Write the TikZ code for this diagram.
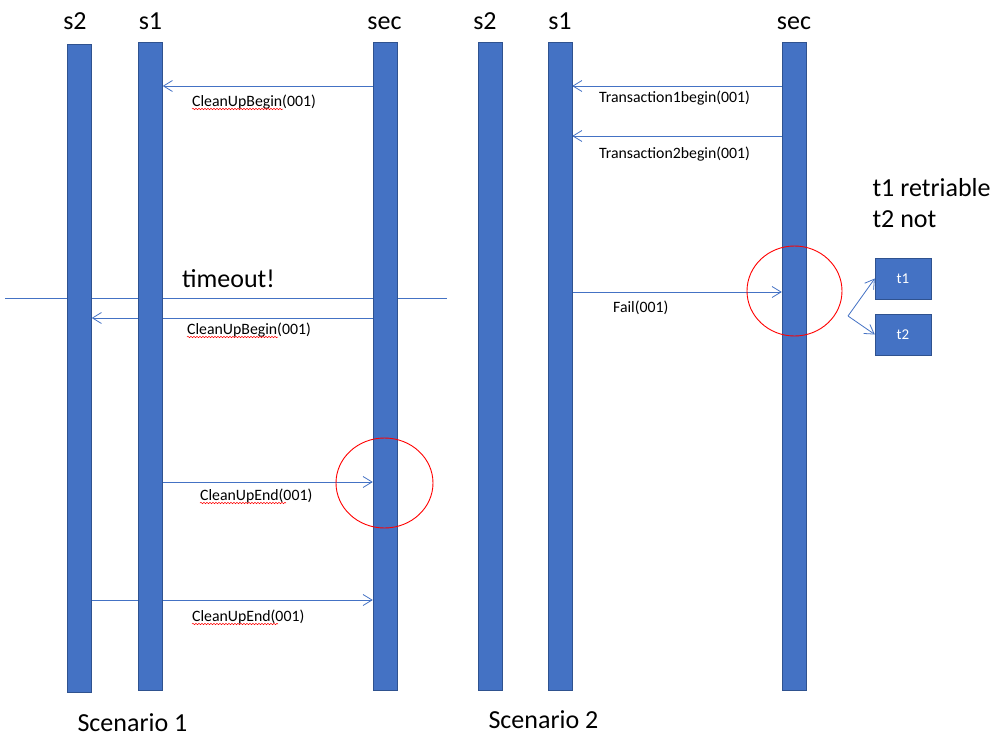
\documentclass[tikz,border=0pt]{standalone}
\usepackage{fontspec}
\setmainfont{Carlito}
\usetikzlibrary{arrows.meta,decorations.pathmorphing,backgrounds}
\definecolor{barblue}{HTML}{4472C4}
\definecolor{bardark}{HTML}{2F528F}
\tikzset{
  lane/.style={draw=bardark,fill=barblue,minimum width=24pt,minimum height=648pt,inner sep=0pt},
  head/.style={anchor=base,font=\fontsize{26}{30}\selectfont},
  msg/.style={draw=barblue,line width=0.8pt,-{Straight Barb[length=9pt,width=11pt]}},
  lbl/.style={anchor=base west,inner sep=0pt,font=\fontsize{15.8}{18}\selectfont},
  squiggle/.style={draw=red,line width=0.5pt,decorate,decoration={snake,amplitude=0.7pt,segment length=3pt}},
  ring/.style={draw=red,line width=0.9pt},
  tbox/.style={draw=bardark,fill=barblue,text=white,minimum width=56pt,minimum height=41pt,font=\fontsize{15}{17}\selectfont}
}
\begin{document}
\begin{tikzpicture}[x=1pt,y=-1pt]
    \useasboundingbox (0,0) rectangle (1005,744);
    % scenario 1 lanes
    \node [lane] (s2a) at (79.5,368) {};
    \node [lane] (s1a) at (150.5,366) {};
    \node [lane] (seca) at (385,366) {};
    \node [head] at (75,30) {s2};
    \node [head] at (150.5,30) {s1};
    \node [head] at (384.5,30) {sec};
    % scenario 2 lanes
    \node [lane] (s2b) at (490,366) {};
    \node [lane] (s1b) at (560,366) {};
    \node [lane] (secb) at (794,366) {};
    \node [head] at (485,30) {s2};
    \node [head] at (560,30) {s1};
    \node [head] at (794,30) {sec};
    % messages, behind the lanes
    \begin{pgfonlayer}{background}
        \draw [draw=barblue,line width=0.8pt] (5,298) -- (447,298);
        \draw [msg] (seca.west |- 0,86) -- (s1a.east |- 0,86);
        \draw [msg] (seca.west |- 0,318) -- (s2a.east |- 0,318);
        \draw [msg] (s1a.east |- 0,482) -- (seca.west |- 0,482);
        \draw [msg] (s2a.east |- 0,600) -- (seca.west |- 0,600);
        \draw [msg] (secb.west |- 0,86) -- (s1b.east |- 0,86);
        \draw [msg] (secb.west |- 0,136) -- (s1b.east |- 0,136);
        \draw [msg] (s1b.east |- 0,292) -- (secb.west |- 0,292);
    \end{pgfonlayer}
    % labels
    \node [lbl] (lb1) at (192,106) {CleanUpBegin(001)};
    \node [lbl] (lb2) at (187,334) {CleanUpBegin(001)};
    \node [lbl] (le1) at (200,500) {CleanUpEnd(001)};
    \node [lbl] (le2) at (192,621) {CleanUpEnd(001)};
    \node [lbl] (lt1) at (599,102) {Transaction1begin(001)};
    \node [lbl] (lt2) at (599,158) {Transaction2begin(001)};
    \node [lbl] (lf) at (613,312) {Fail(001)};
    \draw [squiggle] ([yshift=-3pt]lb1.base west) -- ++(91,0);
    \draw [squiggle] ([yshift=-3pt]lb2.base west) -- ++(91,0);
    \draw [squiggle] ([yshift=-3pt]le1.base west) -- ++(86,0);
    \draw [squiggle] ([yshift=-3pt]le2.base west) -- ++(86,0);
    \node [head] (tmo) at (228.5,287) {timeout!};
    % trouble spots
    \draw [ring] (384.5,483) ellipse [x radius=48.5, y radius=45];
    \draw [ring] (794.5,291) ellipse [x radius=47.5, y radius=45];
    % split into t1 / t2
    \node [tbox] (t1) at (903,278.5) {t1};
    \node [tbox] (t2) at (903,334.5) {t2};
    \coordinate (fork) at (848,316);
    \draw [msg] (fork) -- (t1.west);
    \draw [msg] (fork) -- (t2.west);
    \node [head,anchor=base west] (note1) at (869,196) {t1 retriable};
    \node [head,anchor=base west] (note2) at (869,227) {t2 not};
    % captions
    \node [head,anchor=base west] (cap1) at (74,731) {Scenario 1};
    \node [head,anchor=base west] (cap2) at (485,728) {Scenario 2};
\end{tikzpicture}
\end{document}
